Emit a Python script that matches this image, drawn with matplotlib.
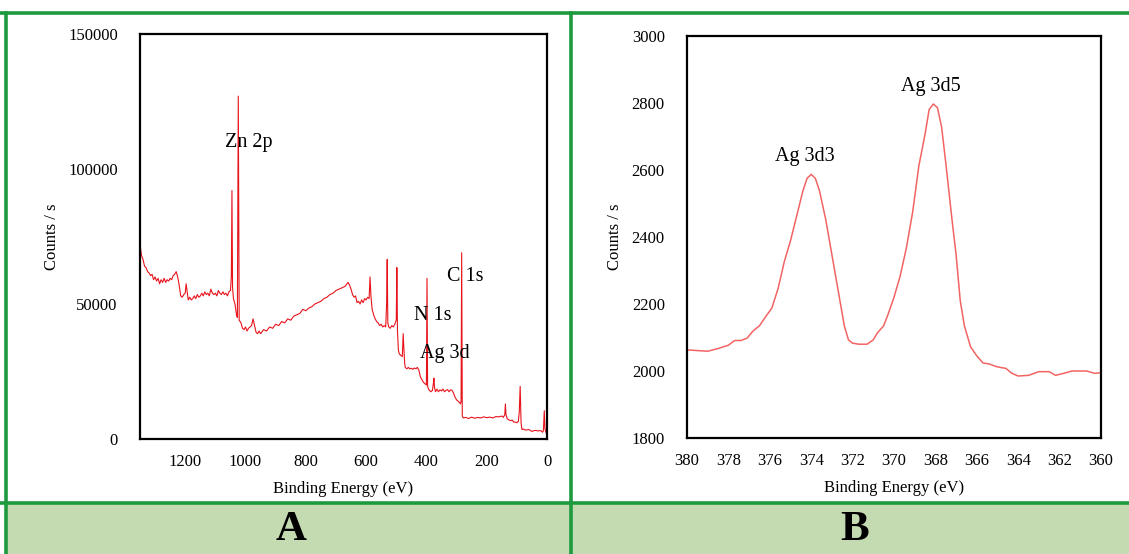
"""
XPS survey (A) and Ag 3d high-resolution (B) spectra
"""

import matplotlib
matplotlib.use('Agg')
import matplotlib.pyplot as plt
from matplotlib.patches import Rectangle
from matplotlib.lines import Line2D

plt.rcParams['font.family'] = ['Liberation Serif', 'DejaVu Serif']

# A: survey spectrum, binding energy (eV) / counts per second
survey_be = [1350, 1345, 1340, 1335, 1330, 1325, 1320, 1315, 1310, 1305, 1300, 1295, 1290,
             1285, 1280, 1275, 1270, 1265, 1260, 1255, 1250, 1245, 1240, 1235, 1230, 1225,
             1220, 1215, 1210, 1205, 1200, 1197, 1193, 1190, 1185, 1180, 1175, 1170, 1165,
             1160, 1155, 1150, 1145, 1140, 1135, 1130, 1125, 1120, 1115, 1110, 1105, 1100,
             1095, 1090, 1085, 1080, 1075, 1070, 1065, 1060, 1055, 1050, 1047, 1045, 1043,
             1040, 1035, 1030, 1027, 1024, 1021, 1015, 1010, 1005, 1000, 995, 990, 985, 980,
             975, 970, 965, 960, 955, 950, 940, 930, 920, 910, 900, 890, 880, 870, 860, 850,
             840, 830, 820, 810, 800, 790, 780, 770, 760, 750, 740, 730, 720, 710, 700, 690,
             680, 670, 660, 655, 650, 645, 640, 635, 630, 625, 620, 615, 610, 605, 600, 595,
             590, 587, 584, 580, 575, 570, 565, 560, 555, 550, 545, 540, 535, 532, 530, 528,
             525, 520, 515, 510, 505, 500, 498, 496, 493, 490, 485, 480, 477, 475, 472, 470,
             465, 460, 455, 450, 445, 440, 435, 430, 425, 420, 415, 410, 405, 400, 398, 396,
             393, 390, 385, 380, 377, 375, 373, 370, 365, 360, 355, 350, 345, 340, 335, 330,
             325, 320, 315, 310, 305, 300, 295, 290, 287, 285, 283, 281, 278, 270, 260, 250,
             240, 230, 220, 210, 200, 190, 180, 170, 160, 150, 145, 140, 138, 136, 132, 125,
             120, 115, 110, 105, 100, 95, 92, 89, 86, 83, 80, 70, 60, 50, 40, 30, 20, 15, 12,
             9, 7, 5, 2, 0]
survey_cps = [72000, 68000, 66500, 64000, 63500, 62000, 61500, 60500, 61000, 59000, 60000,
              58500, 59500, 57500, 59000, 58000, 59500, 58000, 59000, 58500, 59500, 59000,
              60500, 61000, 62000, 60000, 57000, 53000, 52500, 53500, 54000, 57500, 54000,
              51500, 52500, 51500, 52000, 53000, 52000, 53500, 52500, 53000, 54000, 53000,
              54500, 53500, 54000, 53000, 55500, 54000, 53500, 54000, 53000, 55000, 54000,
              53500, 54500, 53500, 54000, 53000, 54500, 55000, 60000, 92000, 56000, 52000,
              50000, 46000, 45000, 127000, 44000, 43000, 41000, 40500, 41500, 40000, 41000,
              41500, 42000, 44500, 42000, 39500, 39000, 40000, 39000, 40500, 40000, 41500,
              41000, 42500, 42000, 43500, 43000, 44500, 44000, 45500, 46000, 46500, 48000,
              47500, 48500, 49000, 50000, 50500, 51000, 52000, 52500, 53500, 54000, 55000,
              55500, 56000, 56500, 58000, 57000, 55500, 53500, 52500, 53000, 50500, 51000,
              50000, 51500, 50500, 52000, 51500, 52500, 52000, 60000, 53000, 48000, 46000,
              44500, 43500, 43000, 42000, 42500, 41500, 42000, 41500, 50000, 66500, 43000,
              41500, 41000, 42000, 41500, 42500, 44000, 63500, 40000, 33000, 31500, 31000,
              30500, 39000, 34000, 28000, 26500, 26000, 26500, 26000, 26200, 25800, 26300,
              26000, 26500, 25500, 23000, 22000, 21000, 20500, 20000, 59500, 19500, 18500,
              18000, 17500, 18000, 20500, 22500, 19000, 17500, 18500, 17500, 18200, 17800,
              18500, 17500, 18000, 18300, 17500, 18200, 18000, 17000, 15500, 14500, 14000,
              13500, 13000, 14000, 69000, 8500, 7800, 8000, 7600, 8100, 7700, 8000, 7800,
              8200, 7900, 8100, 7800, 8300, 8200, 8500, 8000, 9000, 13000, 9000, 7500, 7000,
              6800, 7000, 6200, 6300, 6000, 6500, 10000, 19500, 6000, 3500, 3700, 3300, 3500,
              2800, 3200, 3000, 3100, 2500, 3000, 10500, 4000, 3000, 2000, 1500]

survey_labels = ['Zn 2p', 'C 1s', 'N 1s', 'Ag 3d']
survey_label_be = [989, 272, 378, 339]
survey_label_cps = [110000, 60300, 45700, 31700]

# B: Ag 3d region
ag_be = [380, 379.5, 379, 378.5, 378, 377.7, 377.4, 377.1, 376.8, 376.5, 376.2, 375.9,
         375.6, 375.3, 375, 374.7, 374.4, 374.2, 374, 373.8, 373.6, 373.3, 373, 372.7,
         372.4, 372.2, 372, 371.7, 371.3, 371, 370.8, 370.5, 370.3, 370, 369.7, 369.4,
         369.1, 368.8, 368.5, 368.3, 368.1, 367.9, 367.7, 367.5, 367.2, 367, 366.8, 366.6,
         366.3, 366, 365.7, 365.4, 365.1, 364.9, 364.6, 364.3, 364, 363.5, 363, 362.5,
         362.2, 361.8, 361.4, 360.7, 360.3, 360]
ag_cps = [2063, 2061, 2059, 2067, 2077, 2091, 2091, 2098, 2120, 2135, 2162, 2188, 2246,
          2326, 2389, 2463, 2538, 2575, 2587, 2575, 2538, 2453, 2347, 2241, 2135, 2093,
          2083, 2080, 2080, 2093, 2114, 2135, 2167, 2220, 2284, 2368, 2474, 2612, 2707,
          2781, 2797, 2786, 2728, 2622, 2453, 2347, 2210, 2135, 2072, 2045, 2024, 2021,
          2014, 2011, 2008, 1993, 1985, 1987, 1998, 1998, 1987, 1993, 2000, 2000, 1993, 1995]

ag_labels = ['Ag 3d3', 'Ag 3d5']
ag_label_be = [374.3, 368.2]
ag_label_cps = [2640, 2850]

W, H = 1129, 554
fig = plt.figure(figsize=(W / 100, H / 100), dpi=100)

# green table frame + bottom label cells
green = '#1e9a3e'
fig.add_artist(Rectangle((6 / W, 0), (W - 6) / W, 51 / H, transform=fig.transFigure,
                         facecolor='#c4dab0', edgecolor='none', zorder=0))
for xs, ys in [([0, 1], [1 - 13 / H] * 2),
               ([0, 1], [1 - 503 / H] * 2),
               ([6 / W] * 2, [0, 1 - 13 / H]),
               ([571 / W] * 2, [0, 1 - 13 / H])]:
    fig.add_artist(Line2D(xs, ys, transform=fig.transFigure, color=green, lw=2.6, zorder=1))
fig.text(291 / W, 1 - 530 / H, 'A', ha='center', va='center', fontsize=31, fontweight='bold')
fig.text(855 / W, 1 - 530 / H, 'B', ha='center', va='center', fontsize=31, fontweight='bold')


def style(ax):
    for s in ax.spines.values():
        s.set_linewidth(1.6)
        s.set_color('black')
    ax.tick_params(length=0, labelsize=12)
    ax.tick_params(axis='y', pad=16)
    ax.tick_params(axis='x', pad=11)
    ax.set_xlabel('Binding Energy (eV)', fontsize=12, labelpad=8)
    ax.set_ylabel('Counts / s', fontsize=12, labelpad=6)


# panel A
ax1 = fig.add_axes([140 / W, 1 - 439 / H, 407 / W, 405 / H])
ax1.plot(survey_be, survey_cps, color='#e8141c', lw=0.8)
ax1.set_xlim(1350, 0)
ax1.set_ylim(0, 150000)
ax1.set_xticks([1200, 1000, 800, 600, 400, 200, 0])
ax1.set_yticks([0, 50000, 100000, 150000])
for lab, x, y in zip(survey_labels, survey_label_be, survey_label_cps):
    ax1.text(x, y, lab, ha='center', va='center', fontsize=14.5)
style(ax1)

# panel B
ax2 = fig.add_axes([687 / W, 1 - 438 / H, 414 / W, 402 / H])
ax2.plot(ag_be, ag_cps, color='#f26464', lw=1.1)
ax2.set_xlim(380, 360)
ax2.set_ylim(1800, 3000)
ax2.set_xticks(range(380, 359, -2))
ax2.set_yticks(range(1800, 3001, 200))
for lab, x, y in zip(ag_labels, ag_label_be, ag_label_cps):
    ax2.text(x, y, lab, ha='center', va='center', fontsize=14.5)
style(ax2)

fig.savefig('out.png', dpi=100)
